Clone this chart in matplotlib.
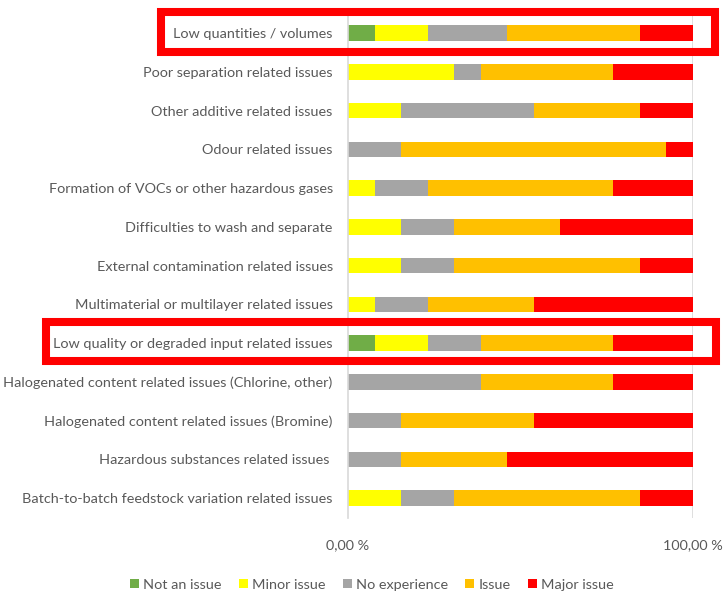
import matplotlib.pyplot as plt
import numpy as np
from matplotlib.patches import Rectangle

# Survey answers per issue (number of respondents, 13 in total)
issues = [
    'Low quantities / volumes',
    'Poor separation related issues',
    'Other additive related issues',
    'Odour related issues',
    'Formation of VOCs or other hazardous gases',
    'Difficulties to wash and separate',
    'External contamination related issues',
    'Multimaterial or multilayer related issues',
    'Low quality or degraded input related issues',
    'Halogenated content related issues (Chlorine, other)',
    'Halogenated content related issues (Bromine)',
    'Hazardous substances related issues ',
    'Batch-to-batch feedstock variation related issues',
]
not_an_issue = [1, 0, 0, 0, 0, 0, 0, 0, 1, 0, 0, 0, 0]
minor_issue = [2, 4, 2, 0, 1, 2, 2, 1, 2, 0, 0, 0, 2]
no_experience = [3, 1, 5, 2, 2, 2, 2, 2, 2, 5, 2, 2, 2]
issue = [5, 5, 4, 10, 7, 4, 7, 4, 5, 5, 5, 4, 7]
major_issue = [2, 3, 2, 1, 3, 5, 2, 6, 3, 3, 6, 7, 2]

series = [
    ('Not an issue', not_an_issue, '#70AD47'),
    ('Minor issue', minor_issue, '#FFFF00'),
    ('No experience', no_experience, '#A5A5A5'),
    ('Issue', issue, '#FFC000'),
    ('Major issue', major_issue, '#FF0000'),
]
highlighted = ['Low quantities / volumes', 'Low quality or degraded input related issues']

plt.rcParams['font.family'] = ['Lato', 'DejaVu Sans']
text_color = '#595959'
fs = 10.4

W, H = 725, 593
fig = plt.figure(figsize=(W / 100, H / 100), dpi=100)
ax = fig.add_axes([348 / W, 1 - 518 / H, (693 - 348) / W, (518 - 15) / H])

counts = np.array([s[1] for s in series], dtype=float)
shares = counts / counts.sum(axis=0)
y = np.arange(len(issues))
left = np.zeros(len(issues))
for (name, _, color), share in zip(series, shares):
    ax.barh(y, share, left=left, height=0.4, color=color, label=name, zorder=2)
    left += share

ax.set_ylim(12.516, -0.4645)
ax.set_xlim(0, 1)
ax.set_yticks(y)
ax.set_yticklabels(issues, fontsize=fs, color=text_color)
ax.set_xticks([0, 1])
ax.set_xticklabels(['0,00 %', '100,00 %'], fontsize=fs, color=text_color)
ax.tick_params(axis='y', length=0, pad=11)
ax.tick_params(axis='x', length=0, pad=15)
for side in ['top', 'right', 'bottom']:
    ax.spines[side].set_visible(False)
ax.spines['left'].set_color('#D9D9D9')
ax.spines['left'].set_linewidth(1.2)
ax.axvline(1, color='#D9D9D9', lw=1.2, zorder=1)

fig.legend(loc='center', bbox_to_anchor=(372 / W, 1 - 585 / H), ncol=5,
           frameon=False, fontsize=fs, labelcolor=text_color,
           handlelength=0.6, handleheight=0.6, handletextpad=0.3,
           columnspacing=1.2)

# red frames around the highlighted rows
frames = {
    'Low quantities / volumes': (161, 12, 715, 51.5),
    'Low quality or degraded input related issues': (46, 321.5, 716, 361),
}
for name in highlighted:
    x0, y0, x1, y1 = frames[name]
    fig.add_artist(Rectangle((x0 / W, 1 - y1 / H), (x1 - x0) / W, (y1 - y0) / H,
                             transform=fig.transFigure, fill=False,
                             edgecolor='#FF0000', lw=5.8, clip_on=False))

fig.savefig('out.png', dpi=100)
